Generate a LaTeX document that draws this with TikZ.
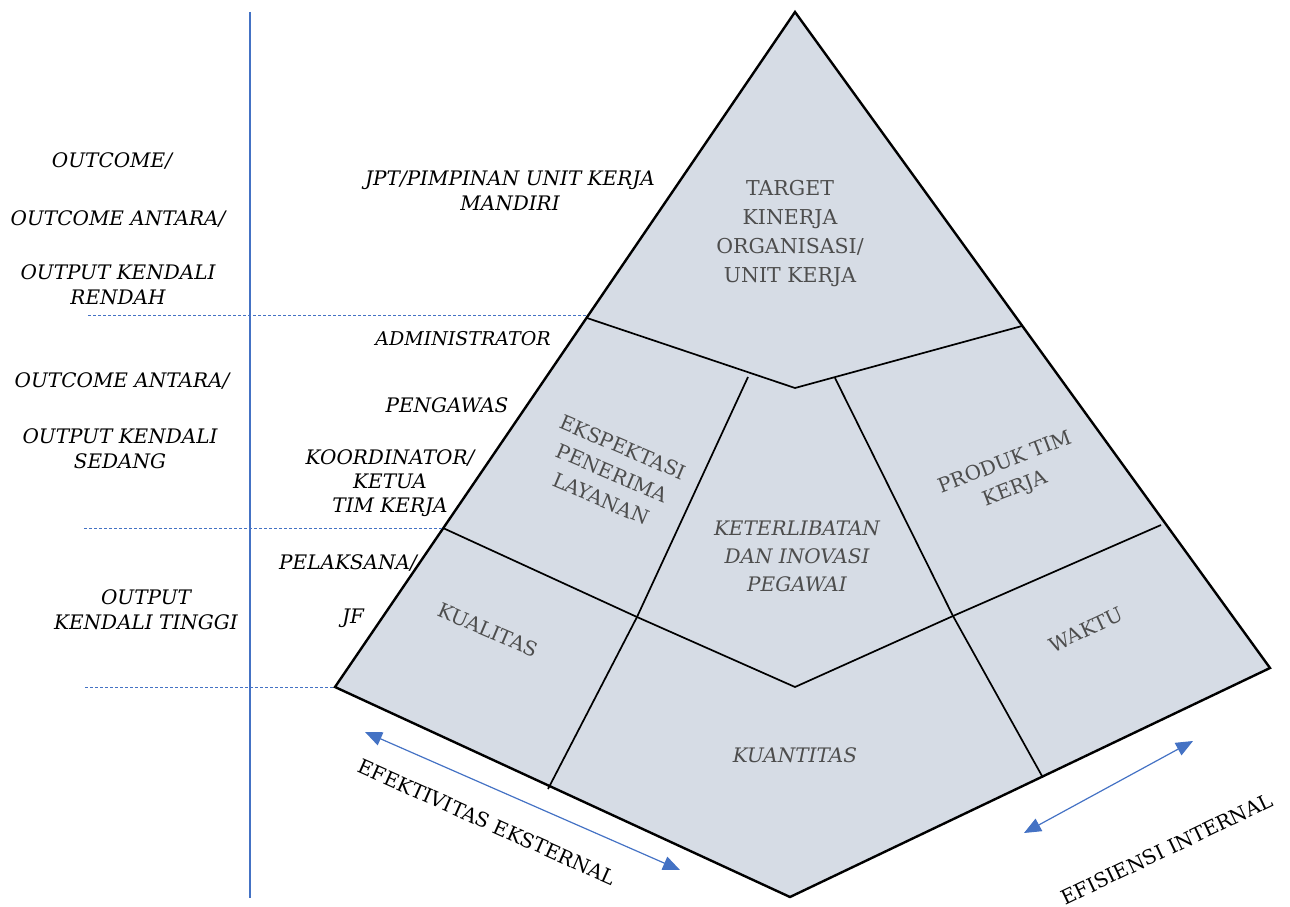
\documentclass[tikz,border=0pt]{standalone}
\usepackage{fontspec}
\setmainfont{DejaVu Serif}
\usetikzlibrary{arrows.meta}
\definecolor{fillc}{HTML}{D6DCE5}
\definecolor{bluec}{HTML}{4472C4}
\definecolor{grayt}{HTML}{4D4D4D}
\begin{document}
\begin{tikzpicture}[x=1pt,y=-1pt,
  lbl/.style={font=\fontsize{20}{25}\selectfont\itshape, align=center, inner sep=0pt, text=black},
  inlbl/.style={font=\fontsize{20}{28}\selectfont, align=center, inner sep=0pt, text=grayt},
  initl/.style={inlbl, font=\fontsize{20}{28}\selectfont\itshape},
  outline/.style={line width=2.4pt, line join=miter},
  inner/.style={line width=1.7pt},
  dash line/.style={bluec, line width=0.9pt, dash pattern=on 3pt off 2pt},
  blue arrow/.style={bluec, line width=1.2pt, {Triangle[length=17pt,width=14pt]}-{Triangle[length=17pt,width=14pt]}}
]
\useasboundingbox (0,0) rectangle (1290,907);
% geometry
\coordinate (apex) at (795,12);
\coordinate (L) at (335,687);
\coordinate (R) at (1270,668);
\coordinate (B) at (790,897);
\coordinate (t1) at (587,318);
\coordinate (tm) at (795,388);
\coordinate (t2) at (1022,326);
\coordinate (m1) at (443,528);
\coordinate (mx1) at (637,617);
\coordinate (mm) at (795,687);
\coordinate (mx2) at (953,616);
\coordinate (m2) at (1161,525);
\coordinate (a1) at (748,377);
\coordinate (b1) at (548,789);
\coordinate (a2) at (835,378);
\coordinate (b2) at (1042,776);
% fill
\fill[fillc] (apex) -- (R) -- (B) -- (L) -- cycle;
% inner lines
\draw[inner] (t1) -- (tm) -- (t2);
\draw[inner] (m1) -- (mx1) -- (mm) -- (mx2) -- (m2);
\draw[inner] (a1) -- (mx1) -- (b1);
\draw[inner] (a2) -- (mx2) -- (b2);
% outline
\draw[outline] (apex) -- (R) -- (B) -- (L) -- cycle;
% left axis
\coordinate (vt) at (250,12);
\coordinate (vb) at (250,898);
\draw[bluec, line width=1.2pt] (vt) -- (vb);
\coordinate (d1) at (88,315);
\coordinate (d1e) at (586,315);
\coordinate (d2) at (84,528);
\coordinate (d3) at (85,687);
\draw[dash line] (d1) -- (d1e);
\draw[dash line] (d2) -- (m1);
\draw[dash line] (d3) -- (L);
% left labels
\node[lbl] (o1) at (112,161) {OUTCOME/};
\node[lbl] (o2) at (118,219) {OUTCOME ANTARA/};
\node[lbl] (o3) at (118,285) {OUTPUT KENDALI\\RENDAH};
\node[lbl] (o4) at (122,381) {OUTCOME ANTARA/};
\node[lbl] (o5) at (120,449) {OUTPUT KENDALI\\SEDANG};
\node[lbl] (o6) at (146,610) {OUTPUT\\KENDALI TINGGI};
% level labels
\node[lbl] (j1) at (510,191) {JPT/PIMPINAN UNIT KERJA\\MANDIRI};
\node[lbl, font=\fontsize{19}{24}\selectfont\itshape] (j2) at (463,339) {ADMINISTRATOR};
\node[lbl] (j3) at (447,405) {PENGAWAS};
\node[lbl, font=\fontsize{20}{24}\selectfont\itshape] (j4) at (390,483) {KOORDINATOR/\\KETUA\\TIM KERJA};
\node[lbl] (j5) at (348,563) {PELAKSANA/};
\node[lbl] (j6) at (353,618) {JF};
% pyramid labels
\node[inlbl, font=\fontsize{20.5}{29}\selectfont] (p1) at (790,234) {TARGET\\KINERJA\\ORGANISASI/\\UNIT KERJA};
\node[inlbl, rotate=-23] (p2) at (612,473) {EKSPEKTASI\\PENERIMA\\LAYANAN};
\node[initl] (p3) at (797,556) {KETERLIBATAN\\DAN INOVASI\\PEGAWAI};
\node[inlbl, rotate=21] (p4) at (1010,476) {PRODUK TIM\\KERJA};
\node[inlbl, rotate=-23] (p5) at (488,630) {KUALITAS};
\node[inlbl, rotate=25] (p6) at (1086,630) {WAKTU};
\node[initl] (p7) at (795,755) {KUANTITAS};
% arrows
\coordinate (e1) at (365,732);
\coordinate (e2) at (680,870);
\coordinate (f1) at (1024,833);
\coordinate (f2) at (1193,741);
\draw[blue arrow] (e1) -- (e2);
\draw[blue arrow] (f1) -- (f2);
\node[inlbl, text=black, rotate=-24] (x1) at (487,822) {EFEKTIVITAS EKSTERNAL};
\node[inlbl, text=black, rotate=25.6] (x2) at (1167,849) {EFISIENSI INTERNAL};
\end{tikzpicture}
\end{document}
